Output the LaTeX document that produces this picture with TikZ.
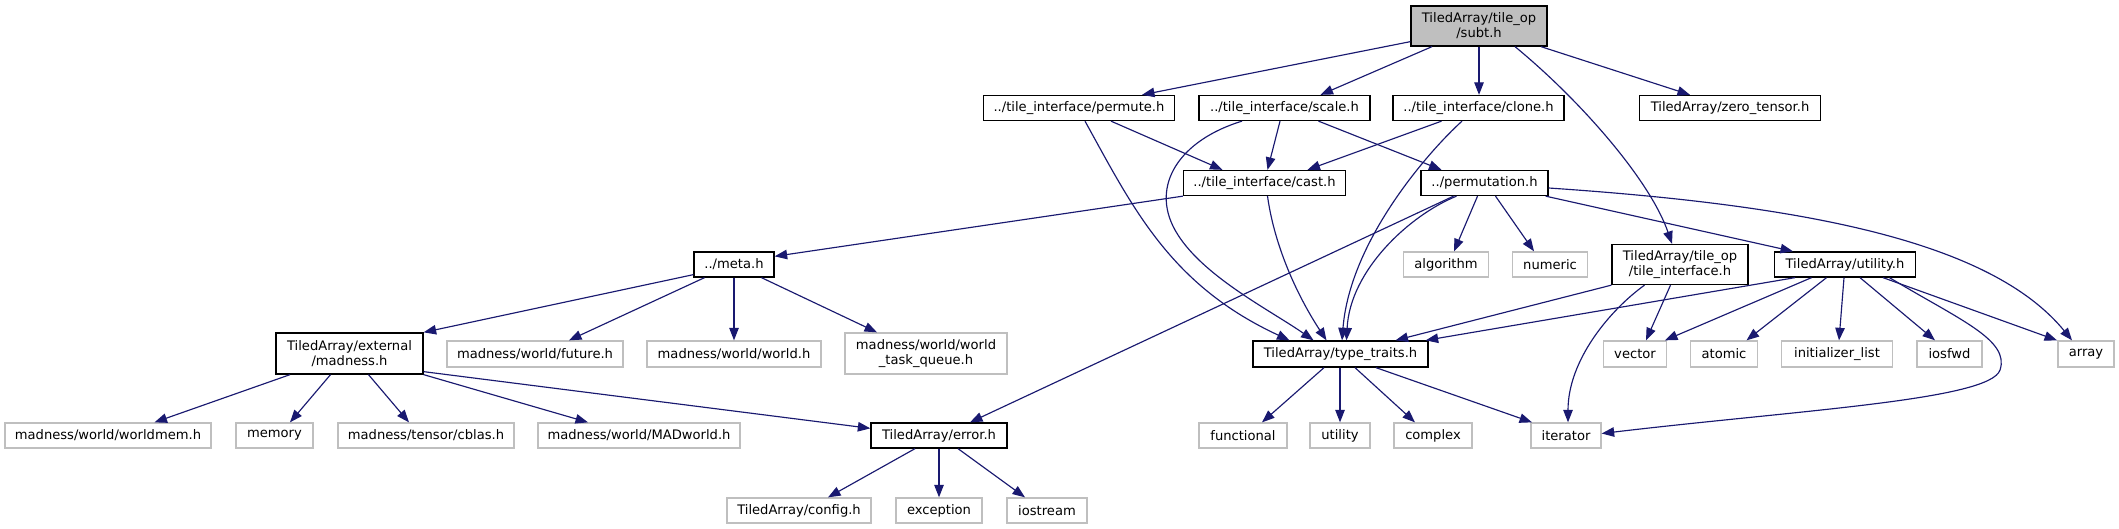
\documentclass[tikz,border=0pt]{standalone}
\usepackage{fontspec}
\setmainfont{DejaVu Sans}
\usetikzlibrary{arrows.meta}
\definecolor{edgeblue}{HTML}{191970}
\definecolor{greyline}{HTML}{BFBFBF}
\tikzset{
  box/.style={draw=black, line width=1.3pt, fill=white, inner sep=0pt, align=center,
    font=\fontsize{13.1}{15}\selectfont, text=black},
  extbox/.style={box, draw=greyline},
  rootbox/.style={box, fill=greyline},
  edge/.style={draw=edgeblue, line width=1.15pt, -{Triangle[length=12.5pt,width=9.5pt]}}
}
\begin{document}
\begin{tikzpicture}[x=1pt,y=-1pt]
\useasboundingbox[fill=white] (0,0) rectangle (2119,529);
% row 0
\node[rootbox, minimum width=136pt, minimum height=40pt] (root) at (1479,26) {TiledArray/tile\_op\\/subt.h};
% row 1
\node[box, minimum width=191pt, minimum height=25pt] (permute) at (1079,108) {../tile\_interface/permute.h};
\node[box, minimum width=171pt, minimum height=25pt] (scale) at (1284.5,108) {../tile\_interface/scale.h};
\node[box, minimum width=171pt, minimum height=25pt] (clone) at (1478.5,108) {../tile\_interface/clone.h};
\node[box, minimum width=181pt, minimum height=25pt] (zero) at (1730,108) {TiledArray/zero\_tensor.h};
% row 2
\node[box, minimum width=162pt, minimum height=25pt] (cast) at (1264.5,183) {../tile\_interface/cast.h};
\node[box, minimum width=127pt, minimum height=25pt] (permutation) at (1484.5,183) {../permutation.h};
% row 3
\node[box, minimum width=80pt, minimum height=25pt] (meta) at (734,264.5) {../meta.h};
\node[extbox, minimum width=85pt, minimum height=25pt] (algorithm) at (1446,264.5) {algorithm};
\node[extbox, minimum width=75pt, minimum height=25pt] (numeric) at (1550,264.5) {numeric};
\node[box, minimum width=136pt, minimum height=40pt] (tileif) at (1680,264.5) {TiledArray/tile\_op\\/tile\_interface.h};
\node[box, minimum width=141pt, minimum height=25pt] (utilityh) at (1845,264.5) {TiledArray/utility.h};
% row 4
\node[box, minimum width=147pt, minimum height=41pt] (madness) at (349.5,353.5) {TiledArray/external\\/madness.h};
\node[extbox, minimum width=176pt, minimum height=26pt] (future) at (535,354) {madness/world/future.h};
\node[extbox, minimum width=174pt, minimum height=26pt] (world) at (734,354) {madness/world/world.h};
\node[extbox, minimum width=162pt, minimum height=41pt] (wtq) at (926,353.5) {madness/world/world\\\_task\_queue.h};
\node[box, minimum width=175pt, minimum height=26pt] (typetraits) at (1340.5,354) {TiledArray/type\_traits.h};
\node[extbox, minimum width=63pt, minimum height=26pt] (vector) at (1635,354) {vector};
\node[extbox, minimum width=67pt, minimum height=26pt] (atomic) at (1724,354) {atomic};
\node[extbox, minimum width=111pt, minimum height=26pt] (initlist) at (1837,354) {initializer\_list};
\node[extbox, minimum width=65pt, minimum height=26pt] (iosfwd) at (1949.5,354) {iosfwd};
\node[extbox, minimum width=56pt, minimum height=26pt] (array) at (2086,354) {array};
% row 5
\node[extbox, minimum width=206pt, minimum height=25pt] (worldmem) at (108,435.5) {madness/world/worldmem.h};
\node[extbox, minimum width=77pt, minimum height=25pt] (memory) at (274.5,435.5) {memory};
\node[extbox, minimum width=176pt, minimum height=25pt] (cblas) at (426,435.5) {madness/tensor/cblas.h};
\node[extbox, minimum width=202pt, minimum height=25pt] (madworld) at (639,435.5) {madness/world/MADworld.h};
\node[box, minimum width=136pt, minimum height=25pt] (error) at (939,435.5) {TiledArray/error.h};
\node[extbox, minimum width=88pt, minimum height=25pt] (functional) at (1243,435.5) {functional};
\node[extbox, minimum width=60pt, minimum height=25pt] (utility) at (1340,435.5) {utility};
\node[extbox, minimum width=78pt, minimum height=25pt] (complex) at (1433,435.5) {complex};
\node[extbox, minimum width=70pt, minimum height=25pt] (iterator) at (1566,435.5) {iterator};
% row 6
\node[extbox, minimum width=144pt, minimum height=25pt] (config) at (799,510.5) {TiledArray/config.h};
\node[extbox, minimum width=86pt, minimum height=25pt] (exception) at (939,510.5) {exception};
\node[extbox, minimum width=80pt, minimum height=25pt] (iostream) at (1047,510.5) {iostream};

% edges from root
\draw[edge] ([yshift=5pt]root.south west) -- ([xshift=63pt]permute.north);
\draw[edge] ([xshift=-47pt]root.south) -- ([xshift=36pt]scale.north);
\draw[edge] (root.south) -- (root.south |- clone.north);
\draw[edge] ([xshift=62pt]root.south) -- ([xshift=-40pt]zero.north);
\draw[edge] ([xshift=36pt]root.south) .. controls (1580,100) and (1650,180) .. ([xshift=-8pt]tileif.north);
% permute
\draw[edge] ([xshift=32pt]permute.south) -- ([xshift=-42pt]cast.north);
\draw[edge] ([xshift=6pt]permute.south) .. controls (1133,208) and (1170,285) .. ([xshift=-51pt]typetraits.north);
% scale
\draw[edge] ([xshift=-42.5pt]scale.south) .. controls (1180,140) and (1150,185) .. (1175,230) .. controls (1200,275) and (1270,310) .. ([xshift=-27pt]typetraits.north);
\draw[edge] ([xshift=-4.5pt]scale.south) -- ([xshift=3pt]cast.north);
\draw[edge] ([xshift=34pt]scale.south) -- ([xshift=-43pt]permutation.north);
% clone
\draw[edge] ([xshift=-37pt]clone.south) -- ([xshift=43pt]cast.north);
\draw[edge] ([xshift=-16.5pt]clone.south) .. controls (1430,150) and (1350,240) .. ([xshift=1.5pt]typetraits.north);
% cast
\draw[edge] (cast.south west) -- ([yshift=-5pt]meta.north east);
\draw[edge] ([xshift=3pt]cast.south) .. controls (1275,250) and (1300,300) .. ([xshift=-14pt]typetraits.north);
% permutation
\draw[edge] ([xshift=-31pt]permutation.south) -- ([xshift=31pt]error.north);
\draw[edge] ([xshift=-28pt]permutation.south) .. controls (1410,215) and (1350,270) .. ([xshift=6pt]typetraits.north);
\draw[edge] ([xshift=-7pt]permutation.south) -- ([xshift=8pt]algorithm.north);
\draw[edge] ([xshift=11pt]permutation.south) -- ([xshift=-16pt]numeric.north);
\draw[edge] ([xshift=-3pt]permutation.south east) -- ([xshift=-52pt]utilityh.north);
\draw[edge] ([yshift=-5pt]permutation.east) .. controls (1800,205) and (1990,240) .. ([xshift=-14pt]array.north);
% utility.h
\draw[edge] ([xshift=-50pt]utilityh.south) -- ([xshift=-3pt]typetraits.north east);
\draw[edge] ([xshift=-33.5pt]utilityh.south) -- ([xshift=30pt]vector.north);
\draw[edge] ([xshift=-18.5pt]utilityh.south) -- ([xshift=22.5pt]atomic.north);
\draw[edge] ([xshift=-1pt]utilityh.south) -- ([xshift=2pt]initlist.north);
\draw[edge] ([xshift=15pt]utilityh.south) -- ([xshift=-14.5pt]iosfwd.north);
\draw[edge] ([xshift=38pt]utilityh.south) -- ([xshift=-29pt]array.north);
\draw[edge] ([xshift=44.5pt]utilityh.south) .. controls (1960,320) and (2010,340) .. (2000,370) .. controls (1990,400) and (1800,410) .. ([yshift=2pt]iterator.east);
% tile_interface.h
\draw[edge] (tileif.south west) -- ([xshift=55pt]typetraits.north);
\draw[edge] ([xshift=-9.5pt]tileif.south) -- ([xshift=11pt]vector.north);
\draw[edge] ([xshift=-35.5pt]tileif.south) .. controls (1610,310) and (1568,360) .. ([xshift=2pt]iterator.north);
% type_traits.h
\draw[edge] ([xshift=-16.5pt]typetraits.south) -- ([xshift=19pt]functional.north);
\draw[edge] ([xshift=-0.5pt]typetraits.south) -- (utility.north);
\draw[edge] ([xshift=14.5pt]typetraits.south) -- ([xshift=-18pt]complex.north);
\draw[edge] ([xshift=35.5pt]typetraits.south) -- ([xshift=-34pt]iterator.north);
% meta.h
\draw[edge] ([yshift=3pt]meta.south west) -- (madness.north east);
\draw[edge] ([xshift=-29.5pt]meta.south) -- ([xshift=34pt]future.north);
\draw[edge] (meta.south) -- (world.north);
\draw[edge] ([xshift=27.5pt]meta.south) -- ([xshift=-49pt]wtq.north);
% madness.h
\draw[edge] ([xshift=-59.5pt]madness.south) -- ([xshift=46.5pt]worldmem.north);
\draw[edge] ([xshift=-19pt]madness.south) -- ([xshift=15.5pt]memory.north);
\draw[edge] ([xshift=19pt]madness.south) -- ([xshift=-17pt]cblas.north);
\draw[edge] (madness.south east) -- ([xshift=-51pt]madworld.north);
\draw[edge] ([yshift=3pt]madness.south east) -- ([yshift=-6pt]error.north west);
% error.h
\draw[edge] ([xshift=-24pt]error.south) -- ([xshift=29pt]config.north);
\draw[edge] (error.south) -- (exception.north);
\draw[edge] ([xshift=19pt]error.south) -- ([xshift=-22pt]iostream.north);
\end{tikzpicture}
\end{document}
